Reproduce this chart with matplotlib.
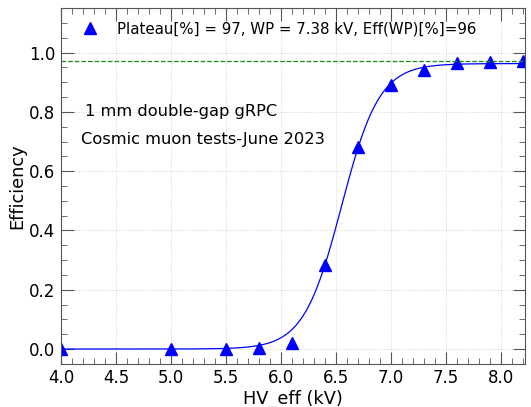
import matplotlib
matplotlib.use("Agg")
import matplotlib.pyplot as plt
import numpy as np
from matplotlib.ticker import MultipleLocator

plt.rcParams["font.family"] = ["DejaVu Sans"]

# measured points
hv = [4.0, 5.0, 5.5, 5.8, 6.1, 6.4, 6.7, 7.0, 7.3, 7.6, 7.9, 8.2]
eff = [0.0, 0.0, 0.0, 0.005, 0.02, 0.284, 0.68, 0.89, 0.94, 0.965, 0.967, 0.97]

# sigmoid fit parameters
emax = 0.963
lam = 5.8
hv50 = 6.55
plateau = 0.97

label = "Plateau[%] = 97, WP = 7.38 kV, Eff(WP)[%]=96"

fig = plt.figure(figsize=(5.31, 4.07), dpi=100)
ax = fig.add_axes([0.115, 0.106, 0.874, 0.874])

x_fit = np.linspace(4.0, 8.2, 400)
y_fit = emax / (1 + np.exp(-lam * (x_fit - hv50)))
ax.plot(x_fit, y_fit, color="blue", lw=0.9)
ax.plot(hv, eff, "^", color="blue", ms=8.5, ls="none", label=label)
ax.axhline(plateau, color="#1a8a1a", ls="--", lw=0.9)

ax.text(4.22, 0.80, "1 mm double-gap gRPC", fontsize=11.7, va="center")
ax.text(4.185, 0.707, "Cosmic muon tests-June 2023", fontsize=11.7, va="center")

ax.set_xlim(4.0, 8.22)
ax.set_ylim(-0.05, 1.15)
ax.xaxis.set_major_locator(MultipleLocator(0.5))
ax.xaxis.set_minor_locator(MultipleLocator(0.1))
ax.yaxis.set_major_locator(MultipleLocator(0.2))
ax.yaxis.set_minor_locator(MultipleLocator(0.05))
ax.tick_params(which="both", direction="in", top=True, right=True, labelsize=12, colors="#555555", labelcolor="black")
ax.tick_params(which="major", length=9, pad=4)
ax.tick_params(which="minor", length=4.5)
for s in ax.spines.values():
    s.set_color("#555555")
ax.grid(True, color="#cccccc", lw=0.6, ls=":")
ax.set_xlabel("HV_eff (kV)", fontsize=12.8, labelpad=2)
ax.set_ylabel("Efficiency", fontsize=12.8, labelpad=2)
ax.legend(loc="upper left", frameon=False, fontsize=10.8, handletextpad=0.8)

fig.savefig("out.png", dpi=100)
